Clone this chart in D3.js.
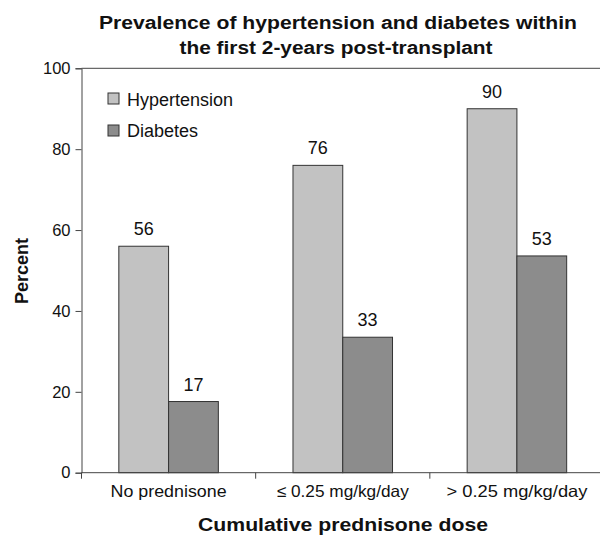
<!DOCTYPE html>
<html><head><meta charset="utf-8">
<script src="https://cdn.jsdelivr.net/npm/d3@7"></script>
<style>body{margin:0;background:#fff}svg{display:block}text{font-family:"Liberation Sans",Arial,sans-serif;fill:#111}</style>
</head><body><svg id="c" width="600" height="539"></svg>
<script>
const categories = ["No prednisone", "\u2264 0.25 mg/kg/day", "> 0.25 mg/kg/day"];
const hypertension = [56, 76, 90];
const diabetes = [17.6, 33.5, 53.6];
const seriesNames = ["Hypertension", "Diabetes"];
const yTicks = [0, 20, 40, 60, 80, 100];
const colors = ["#c2c2c2", "#8c8c8c"];

const svg = d3.select("#c");
const pL = 81.5, pR = 604, pT = 68.3, pB = 472.7;
const x = d3.scaleBand().domain(categories).range([pL, pR]).paddingInner(0).paddingOuter(0);
const xs = d3.scaleBand().domain(seriesNames).range([0, x.bandwidth()]).paddingInner(0).paddingOuter(0.75);
const y = d3.scaleLinear().domain([0, 100]).range([pB, pT]);
const xLabelWidths = [116, 132, 141];

// Title
svg.append("text").attr("x", 338).attr("y", 29).attr("text-anchor", "middle").attr("font-size", 18).attr("font-weight", "bold")
  .attr("textLength", 478).attr("lengthAdjust", "spacingAndGlyphs").text("Prevalence of hypertension and diabetes within");
svg.append("text").attr("x", 336).attr("y", 54).attr("text-anchor", "middle").attr("font-size", 18).attr("font-weight", "bold")
  .attr("textLength", 313).attr("lengthAdjust", "spacingAndGlyphs").text("the first 2-years post-transplant");

// top frame line
svg.append("line").attr("x1", pL).attr("x2", 600).attr("y1", y(100)).attr("y2", y(100)).attr("stroke", "#444").attr("stroke-width", 1);

const data = categories.map((c, i) => ({c, vals: [hypertension[i], diabetes[i]]}));
const g = svg.append("g");
data.forEach(d => {
  d.vals.forEach((v, j) => {
    const bx = x(d.c) + xs(seriesNames[j]);
    g.append("rect").attr("x", bx).attr("y", y(v)).attr("width", xs.bandwidth()).attr("height", y(0) - y(v))
      .attr("fill", colors[j]).attr("stroke", "#333").attr("stroke-width", 1);
    g.append("text").attr("x", bx + xs.bandwidth() / 2).attr("y", y(v) - 11).attr("text-anchor", "middle")
      .attr("font-size", 18).text(Math.floor(v));
  });
});

// Y axis
const yAxis = svg.append("g").attr("transform", `translate(${pL},0)`)
  .call(d3.axisLeft(y).tickValues(yTicks).tickSize(6).tickPadding(5));
yAxis.select(".domain").attr("stroke", "#444");
yAxis.selectAll(".tick line").attr("stroke", "#444");
yAxis.selectAll("text").attr("font-size", 16.5).attr("font-family", "Liberation Sans, Arial, sans-serif").attr("fill", "#111");

// X axis
const xAxis = svg.append("g").attr("transform", `translate(0,${pB})`)
  .call(d3.axisBottom(x).tickSize(0).tickPadding(0));
xAxis.select(".domain").remove();
xAxis.selectAll("text").attr("font-size", 16.5).attr("font-family", "Liberation Sans, Arial, sans-serif").attr("fill", "#111")
  .attr("dy", null).attr("y", 24.5)
  .attr("textLength", (d, i) => xLabelWidths[i]).attr("lengthAdjust", "spacingAndGlyphs");
svg.append("line").attr("x1", pL).attr("x2", 600).attr("y1", pB).attr("y2", pB).attr("stroke", "#444");
const boundaries = categories.map(c => x(c));
svg.selectAll(".xt").data(boundaries).enter().append("line").attr("x1", d => d).attr("x2", d => d)
  .attr("y1", pB).attr("y2", pB + 6).attr("stroke", "#444");

// Axis titles
svg.append("text").attr("transform", `translate(28,271) rotate(-90)`).attr("text-anchor", "middle")
  .attr("font-size", 18).attr("font-weight", "bold").text("Percent");
svg.append("text").attr("x", 343).attr("y", 531).attr("text-anchor", "middle").attr("font-size", 18).attr("font-weight", "bold")
  .attr("textLength", 290).attr("lengthAdjust", "spacingAndGlyphs").text("Cumulative prednisone dose");

// Legend
const lg = svg.append("g").attr("transform", "translate(108,93)");
seriesNames.forEach((n, i) => {
  lg.append("rect").attr("x", 0).attr("y", i * 32).attr("width", 11).attr("height", 11).attr("fill", colors[i]).attr("stroke", "#333");
  lg.append("text").attr("x", 19).attr("y", i * 31 + 13).attr("font-size", 18).text(n);
});
</script></body></html>
